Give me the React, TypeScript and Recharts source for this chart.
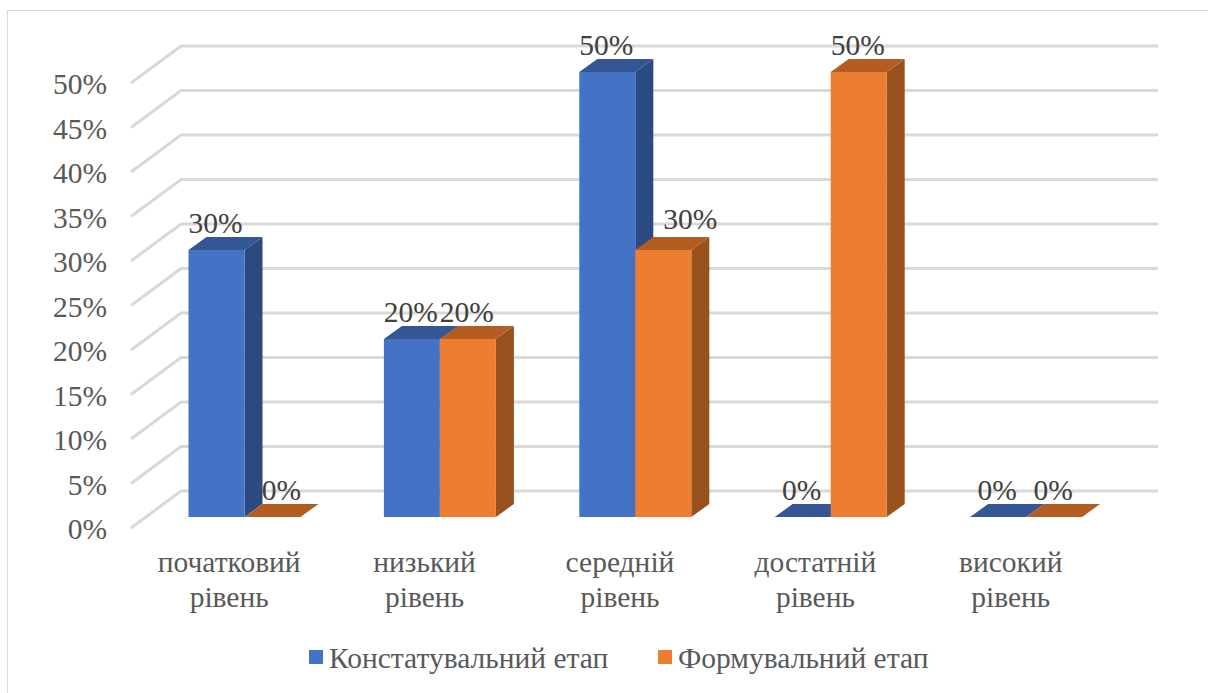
import { Bar, BarChart, CartesianGrid, LabelList, Legend, XAxis, YAxis } from "recharts";

const categories = [
  "початковий рівень",
  "низький рівень",
  "середній рівень",
  "достатній рівень",
  "високий рівень",
];
const konstatValues = [30, 20, 50, 0, 0];
const formValues = [0, 20, 30, 50, 0];
const yTicks = [0, 5, 10, 15, 20, 25, 30, 35, 40, 45, 50];

const KONSTAT = "Констатувальний етап";
const FORM = "Формувальний етап";

const data = categories.map((name, i) => ({
  name,
  [KONSTAT]: konstatValues[i],
  [FORM]: formValues[i],
}));

const FONT = '"Liberation Serif", serif';
const FONT_SIZE = 29.5;
const DEPTH_X = 18;
const DEPTH_Y = 13;

const colors = {
  [KONSTAT]: { front: "#4472c4", top: "#345694", side: "#2a4a81" },
  [FORM]: { front: "#ed7d31", top: "#b45d22", side: "#98521d" },
};

// псевдо-3D стовпчик: передня грань + верх + бік
function Box3D(props: any) {
  const { x, y, width, height, tone } = props;
  const r = x + width;
  const b = y + height;
  return (
    <g>
      <polygon
        points={`${r},${y} ${r + DEPTH_X},${y - DEPTH_Y} ${r + DEPTH_X},${b - DEPTH_Y} ${r},${b}`}
        fill={tone.side}
      />
      <polygon
        points={`${x},${y} ${x + DEPTH_X},${y - DEPTH_Y} ${r + DEPTH_X},${y - DEPTH_Y} ${r},${y}`}
        fill={tone.top}
      />
      {height > 0 && <rect x={x} y={y} width={width} height={height} fill={tone.front} />}
    </g>
  );
}

// лінія сітки на задній стінці + скіс на бічній
function GridLine(props: any) {
  const { y1 } = props;
  return (
    <polyline
      points={`131,${y1 + 11} 181,${y1 - 26} 1158,${y1 - 26}`}
      fill="none"
      stroke="#d9d9d9"
      strokeWidth={3}
    />
  );
}

function YTick(props: any) {
  const { y, payload } = props;
  return (
    <text x={107} y={y + 22} textAnchor="end" fontFamily={FONT} fontSize={FONT_SIZE} fill="#595959">
      {payload.value}%
    </text>
  );
}

function XTick(props: any) {
  const { x, y, payload } = props;
  const [first, second] = String(payload.value).split(" ");
  return (
    <text textAnchor="middle" fontFamily={FONT} fontSize={FONT_SIZE} fill="#595959">
      <tspan x={x - 15} y={y + 47}>{first}</tspan>
      <tspan x={x - 15} y={y + 82}>{second}</tspan>
    </text>
  );
}

// у Формувального етапу два підписи зсунуті вручну, як в оригіналі
function ValueLabel(props: any) {
  const { x, y, width, value, index, shifted } = props;
  let dx = 0;
  let dy = 0;
  if (shifted && index === 0) dx = 10;
  if (shifted && index === 2) {
    dx = 28;
    dy = -4;
  }
  return (
    <text
      x={x + width / 2 + dx - 1}
      y={y - 17 + dy}
      textAnchor="middle"
      fontFamily={FONT}
      fontSize={FONT_SIZE}
      fill="#404040"
    >
      {value}%
    </text>
  );
}

function ChartLegend() {
  const items = [
    { label: KONSTAT, color: colors[KONSTAT].front, left: 309 },
    { label: FORM, color: colors[FORM].front, left: 658 },
  ];
  return (
    <div style={{ position: "relative", height: 40 }}>
      {items.map((item) => (
        <div key={item.label} style={{ position: "absolute", left: item.left, top: 0, whiteSpace: "nowrap" }}>
          <span
            style={{
              position: "absolute",
              left: 0,
              top: 8,
              width: 14,
              height: 14,
              background: item.color,
            }}
          />
          <span
            style={{
              position: "absolute",
              left: 20,
              top: 0,
              fontFamily: FONT,
              fontSize: FONT_SIZE,
              lineHeight: "32px",
              color: "#595959",
            }}
          >
            {item.label}
          </span>
        </div>
      ))}
    </div>
  );
}

export default function App() {
  return (
    <div style={{ position: "absolute", left: 0, top: 0, width: 1208, height: 693, background: "#fff", overflow: "hidden" }}>
      <div
        style={{
          position: "absolute",
          left: 7,
          top: 10,
          width: 1300,
          height: 800,
          border: "1.5px solid #d9d9d9",
        }}
      />
      <div style={{ position: "absolute", left: 0, top: 0 }}>
        <BarChart
          width={1208}
          height={693}
          data={data}
          barSize={56}
          barGap={0}
          margin={{ top: 72, right: 84.5, bottom: 116, left: 46.5 }}
        >
          <CartesianGrid vertical={false} horizontal={<GridLine />} />
          <XAxis dataKey="name" axisLine={false} tickLine={false} height={60} tick={<XTick />} interval={0} />
          <YAxis
            domain={[0, 50]}
            ticks={yTicks}
            axisLine={false}
            tickLine={false}
            width={100}
            tick={<YTick />}
            interval={0}
          />
          <Legend
            verticalAlign="middle"
            content={<ChartLegend />}
            wrapperStyle={{ top: 642, left: 0, width: 1208 }}
          />
          <Bar dataKey={KONSTAT} isAnimationActive={false} shape={<Box3D tone={colors[KONSTAT]} />}>
            <LabelList dataKey={KONSTAT} content={<ValueLabel />} />
          </Bar>
          <Bar dataKey={FORM} isAnimationActive={false} shape={<Box3D tone={colors[FORM]} />}>
            <LabelList dataKey={FORM} content={<ValueLabel shifted />} />
          </Bar>
        </BarChart>
      </div>
    </div>
  );
}
